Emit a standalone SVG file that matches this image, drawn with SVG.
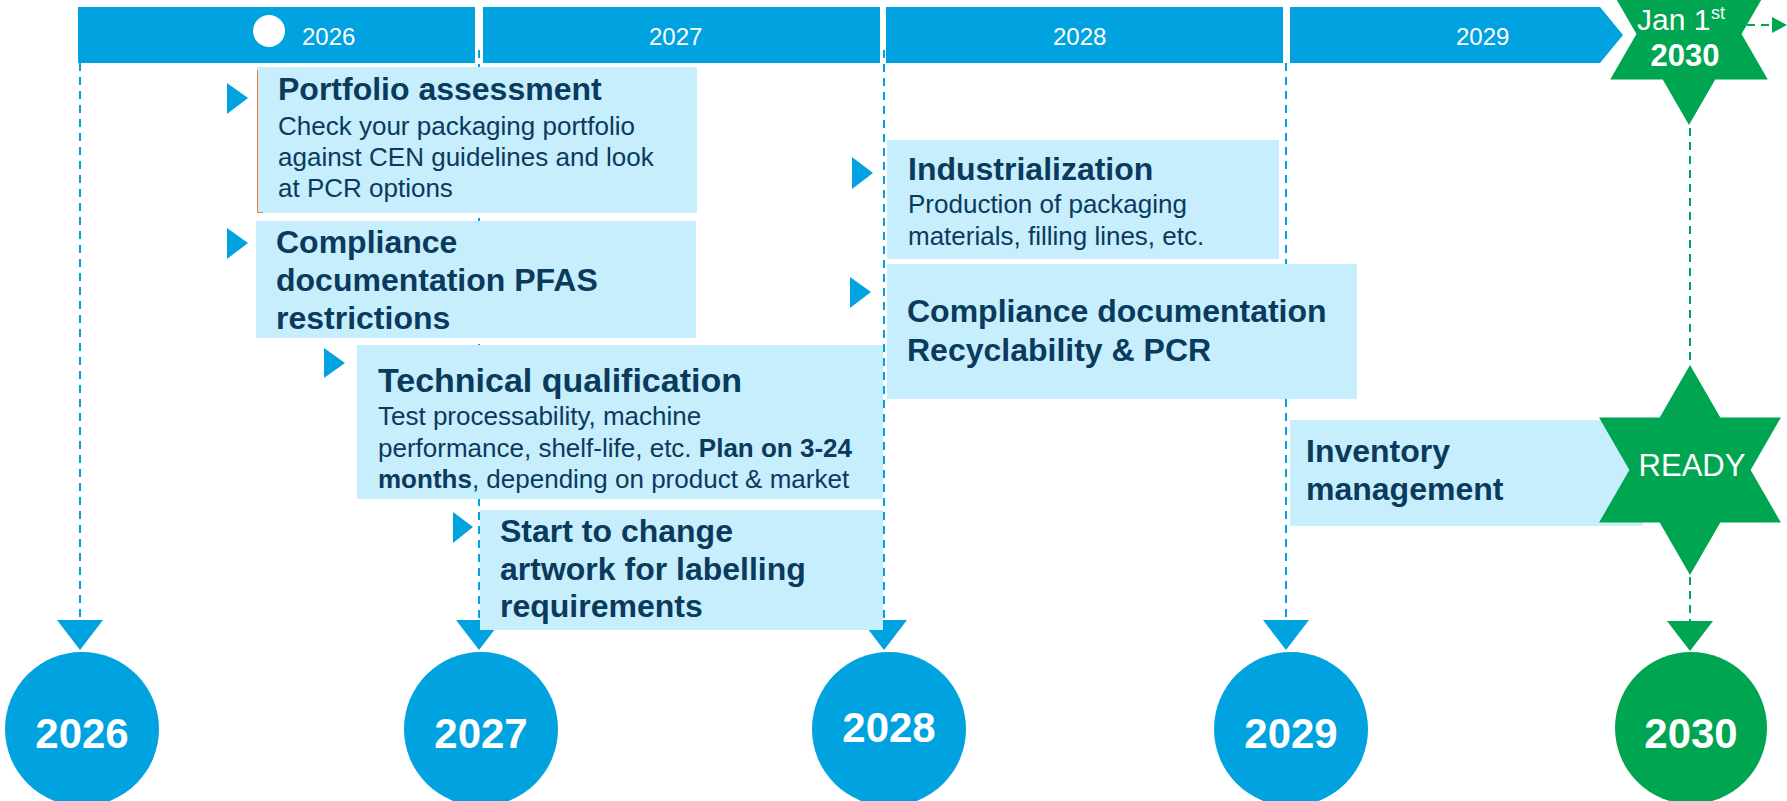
<svg xmlns="http://www.w3.org/2000/svg" width="1787" height="801" viewBox="0 0 1787 801">
<style>
.bar{fill:#00A2DF}
.box{fill:#C6EEFD}
.tri{fill:#00A2DF}
.yr{font-family:"Liberation Sans",Arial,sans-serif;font-size:24px;fill:#fff}
.h{font-family:"Liberation Sans",Arial,sans-serif;font-size:32px;font-weight:bold;fill:#0A3A5C}
.b{font-family:"Liberation Sans",Arial,sans-serif;font-size:26px;fill:#0A3A5C}
.bb{font-weight:bold}
.circ{fill:#00A2DF}
.green{fill:#00A551}
.ctext{font-family:"Liberation Sans",Arial,sans-serif;font-size:42px;font-weight:bold;fill:#fff;text-anchor:middle}
.dash{fill:none;stroke:#00A2DF;stroke-width:2;stroke-dasharray:8 6}
.gdash{fill:none;stroke:#00A551;stroke-width:2;stroke-dasharray:8 6}
</style>
<defs>
<path id="hex" d="M0,-100 L28.87,-50 L86.6,-50 L57.74,0 L86.6,50 L28.87,50 L0,100 L-28.87,50 L-86.6,50 L-57.74,0 L-86.6,-50 L-28.87,-50 Z"/>
<marker id="ab" markerUnits="userSpaceOnUse" markerWidth="30" markerHeight="46" viewBox="0 0 30 46" refX="0" refY="23" orient="auto"><path d="M0,0 L30,23 L0,46 Z" fill="#00A2DF"/></marker>
<marker id="ag" markerUnits="userSpaceOnUse" markerWidth="30" markerHeight="46" viewBox="0 0 30 46" refX="0" refY="23" orient="auto"><path d="M0,0 L30,23 L0,46 Z" fill="#00A551"/></marker>
<marker id="ags" markerUnits="userSpaceOnUse" markerWidth="15" markerHeight="16" viewBox="0 0 15 16" refX="0" refY="8" orient="auto"><path d="M0,0 L15,8 L0,16 Z" fill="#00A551"/></marker>
</defs>
<rect width="1787" height="801" fill="#fff"/>

<g id="connectors">
<line class="dash" x1="80" y1="63" x2="80" y2="620" marker-end="url(#ab)"/>
<line class="dash" x1="479" y1="50" x2="479" y2="620" marker-end="url(#ab)"/>
<line class="dash" x1="884" y1="50" x2="884" y2="620" marker-end="url(#ab)"/>
<line class="dash" x1="1286" y1="63" x2="1286" y2="620" marker-end="url(#ab)"/>
<line class="gdash" x1="1690" y1="128" x2="1690" y2="366"/>
<line class="gdash" x1="1690" y1="577" x2="1690" y2="621" marker-end="url(#ag)"/>
<line class="gdash" x1="1747" y1="25" x2="1772" y2="25" marker-end="url(#ags)"/>
</g>

<g id="timeline">
<rect class="bar" x="78" y="7" width="397" height="56"/>
<circle cx="269" cy="31" r="16" fill="#fff"/>
<text class="yr" x="302" y="45">2026</text>
<rect class="bar" x="483" y="7" width="397" height="56"/>
<text class="yr" x="649" y="45">2027</text>
<rect class="bar" x="886" y="7" width="397" height="56"/>
<text class="yr" x="1053" y="45">2028</text>
<polygon class="bar" points="1290,7 1600,7 1623,35 1600,63 1290,63"/>
<text class="yr" x="1456" y="45">2029</text>
</g>

<g id="portfolio">
<polygon class="tri" points="227,83 248,98 227,114"/>
<rect class="box" x="257" y="67" width="440" height="146"/>
<path d="M257.5,70 V212.5 H263" fill="none" stroke="#ED7D31" stroke-width="1"/>
<text class="h" x="278" y="100">Portfolio assessment</text>
<text class="b" x="278" y="135">Check your packaging portfolio</text>
<text class="b" x="278" y="166">against CEN guidelines and look</text>
<text class="b" x="278" y="197">at PCR options</text>
</g>

<g id="pfas">
<polygon class="tri" points="227,228 248,243 227,259"/>
<rect class="box" x="256" y="221" width="440" height="117"/>
<text class="h" x="276" y="253">Compliance</text>
<text class="h" x="276" y="291">documentation PFAS</text>
<text class="h" x="276" y="329">restrictions</text>
</g>

<g id="technical">
<polygon class="tri" points="324,348 345,363 324,378"/>
<rect class="box" x="357" y="345" width="526" height="154"/>
<text class="h" x="378" y="392" style="font-size:34px">Technical qualification</text>
<text class="b" x="378" y="425">Test processability, machine</text>
<text class="b" x="378" y="457">performance, shelf-life, etc. <tspan class="bb">Plan on 3-24</tspan></text>
<text class="b" x="378" y="488"><tspan class="bb">months</tspan>, depending on product &amp; market</text>
</g>

<g id="artwork">
<polygon class="tri" points="453,512 473,527 453,543"/>
<rect class="box" x="480" y="510" width="403" height="120"/>
<text class="h" x="500" y="542">Start to change</text>
<text class="h" x="500" y="580">artwork for labelling</text>
<text class="h" x="500" y="617">requirements</text>
</g>

<g id="industrialization">
<polygon class="tri" points="852,157 873,173 852,189"/>
<rect class="box" x="887" y="140" width="392" height="119"/>
<text class="h" x="908" y="180">Industrialization</text>
<text class="b" x="908" y="213">Production of packaging</text>
<text class="b" x="908" y="245">materials, filling lines, etc.</text>
</g>

<g id="recyclability">
<polygon class="tri" points="850,277 871,292 850,308"/>
<rect class="box" x="887" y="264" width="470" height="135"/>
<text class="h" x="907" y="322">Compliance documentation</text>
<text class="h" x="907" y="361">Recyclability &amp; PCR</text>
</g>

<g id="inventory">
<rect class="box" x="1290" y="420" width="353" height="106"/>
<text class="h" x="1306" y="462">Inventory</text>
<text class="h" x="1306" y="500">management</text>
</g>

<g id="jan2030">
<use href="#hex" class="green" transform="translate(1689,34) scale(0.91)"/>
<text x="1637" y="30" style="font-family:'Liberation Sans',Arial,sans-serif;font-size:30px;fill:#fff">Jan 1</text>
<text x="1711" y="19" style="font-family:'Liberation Sans',Arial,sans-serif;font-size:18px;fill:#fff">st</text>
<text x="1685" y="66" style="font-family:'Liberation Sans',Arial,sans-serif;font-size:31px;font-weight:bold;fill:#fff;text-anchor:middle">2030</text>
</g>

<g id="ready">
<use href="#hex" class="green" transform="translate(1690,470) scale(1.05)"/>
<text x="1692" y="476" style="font-family:'Liberation Sans',Arial,sans-serif;font-size:31px;fill:#fff;text-anchor:middle">READY</text>
</g>

<g id="c2026"><circle class="circ" cx="82" cy="729" r="77"/><text class="ctext" x="82" y="748">2026</text></g>
<g id="c2027"><circle class="circ" cx="481" cy="729" r="77"/><text class="ctext" x="481" y="748">2027</text></g>
<g id="c2028"><circle class="circ" cx="889" cy="729" r="77"/><text class="ctext" x="889" y="742">2028</text></g>
<g id="c2029"><circle class="circ" cx="1291" cy="729" r="77"/><text class="ctext" x="1291" y="748">2029</text></g>
<g id="c2030"><circle class="green" cx="1691" cy="728" r="76"/><text class="ctext" x="1691" y="748">2030</text></g>
</svg>
